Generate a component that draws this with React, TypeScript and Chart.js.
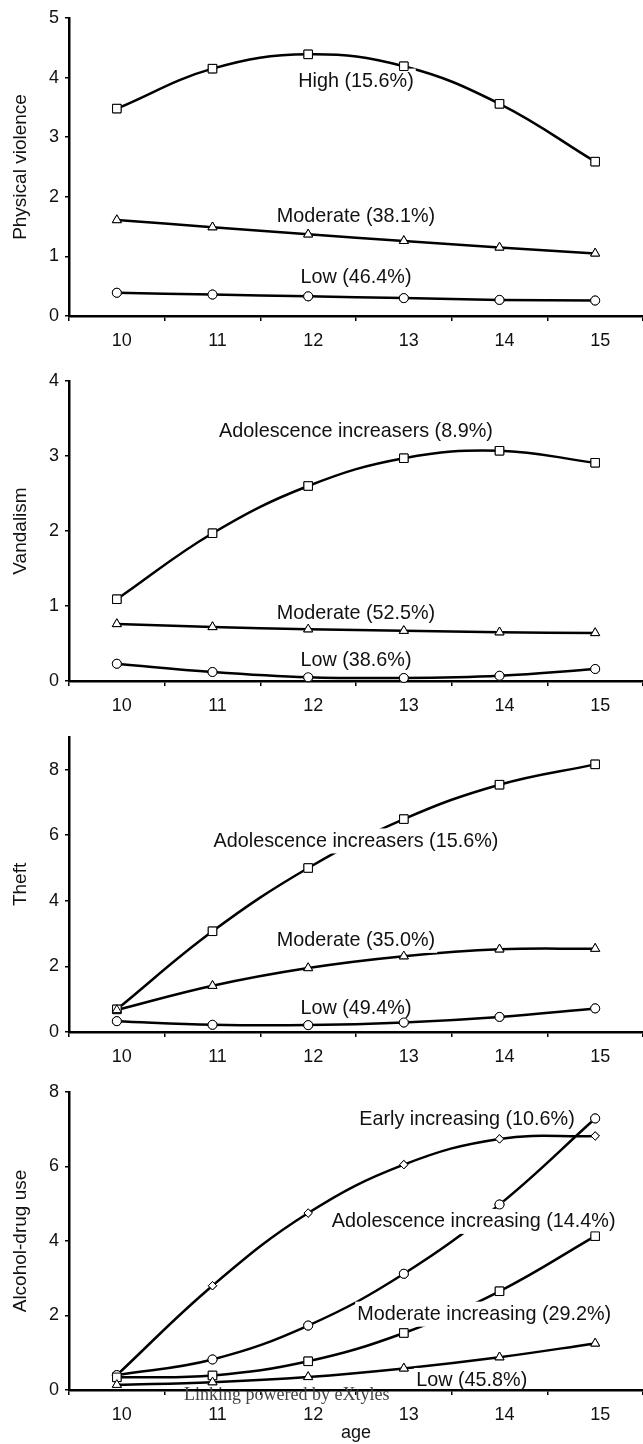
import React, { useEffect, useRef } from "react";
import { Chart, registerables } from "chart.js";

Chart.register(...registerables);
Chart.defaults.font.family = '"Liberation Sans", Arial, Helvetica, sans-serif';

// ---------- data ----------
const ages = ["10", "11", "12", "13", "14", "15"];

// Panel 1: Physical violence
const pvHigh = [3.48, 4.15, 4.39, 4.19, 3.56, 2.59];
const pvModerate = [1.61, 1.49, 1.37, 1.26, 1.15, 1.05];
const pvLow = [0.39, 0.36, 0.33, 0.3, 0.27, 0.26];
const pvLabels = ["High (15.6%)", "Moderate (38.1%)", "Low (46.4%)"];
const pvLabelAnchors = [
  [2.5, 3.95],
  [2.5, 1.68],
  [2.5, 0.66],
];

// Panel 2: Vandalism
const vaHigh = [1.09, 1.97, 2.6, 2.97, 3.07, 2.91];
const vaModerate = [0.76, 0.72, 0.69, 0.67, 0.65, 0.64];
const vaLow = [0.23, 0.12, 0.05, 0.04, 0.07, 0.16];
const vaLabels = ["Adolescence increasers (8.9%)", "Moderate (52.5%)", "Low (38.6%)"];
const vaLabelAnchors = [
  [2.5, 3.34],
  [2.5, 0.91],
  [2.5, 0.28],
];

// Panel 3: Theft
const thHigh = [0.69, 3.07, 5.0, 6.49, 7.54, 8.16];
const thModerate = [0.67, 1.41, 1.95, 2.31, 2.52, 2.54];
const thLow = [0.33, 0.22, 0.21, 0.29, 0.46, 0.72];
const thLabels = ["Adolescence increasers (15.6%)", "Moderate (35.0%)", "Low (49.4%)"];
const thLabelAnchors = [
  [2.5, 5.84],
  [2.5, 2.81],
  [2.5, 0.76],
];

// Panel 4: Alcohol-drug use
const adEarly = [0.4, 2.8, 4.75, 6.05, 6.74, 6.82];
const adAdolescence = [0.4, 0.82, 1.73, 3.12, 4.98, 7.29];
const adModerate = [0.34, 0.39, 0.77, 1.53, 2.65, 4.13];
const adLow = [0.14, 0.21, 0.35, 0.58, 0.88, 1.25];
const adLabels = [
  "Early increasing (10.6%)",
  "Adolescence increasing (14.4%)",
  "Moderate increasing (29.2%)",
  "Low (45.8%)",
];
const adLabelAnchors = [
  [3.66, 7.29],
  [3.73, 4.54],
  [3.84, 2.05],
  [3.71, 0.27],
];

const yTitles = ["Physical violence", "Vandalism", "Theft", "Alcohol-drug use"];
const yMaxes = [5, 4, 9, 8];
const ySteps = [1, 1, 2, 2];

// ---------- styling / layout ----------
const INK = "#111";
const TICK_FONT = 18;
const TITLE_FONT = 19;
const LABEL_FONT = 19.8;
const Y_AXIS_WIDTH = 69;

type Marker = { style: string; radius: number };
const SQUARE: Marker = { style: "rect", radius: 6 };
const TRIANGLE: Marker = { style: "triangle", radius: 5.2 };
const CIRCLE: Marker = { style: "circle", radius: 4.5 };
const DIAMOND: Marker = { style: "rectRot", radius: 4.2 };

type Panel = {
  top: number;
  height: number;
  padTop: number;
  xAxisHeight: number;
  yTitle: string;
  yMax: number;
  yStep: number;
  series: { data: number[]; marker: Marker }[];
  labels: string[];
  anchors: number[][];
  xTitle?: string;
};

const panels: Panel[] = [
  {
    top: 0,
    height: 360,
    padTop: 18,
    xAxisHeight: 44,
    yTitle: yTitles[0],
    yMax: yMaxes[0],
    yStep: ySteps[0],
    series: [
      { data: pvHigh, marker: SQUARE },
      { data: pvModerate, marker: TRIANGLE },
      { data: pvLow, marker: CIRCLE },
    ],
    labels: pvLabels,
    anchors: pvLabelAnchors,
  },
  {
    top: 360,
    height: 360,
    padTop: 21,
    xAxisHeight: 39,
    yTitle: yTitles[1],
    yMax: yMaxes[1],
    yStep: ySteps[1],
    series: [
      { data: vaHigh, marker: SQUARE },
      { data: vaModerate, marker: TRIANGLE },
      { data: vaLow, marker: CIRCLE },
    ],
    labels: vaLabels,
    anchors: vaLabelAnchors,
  },
  {
    top: 720,
    height: 350,
    padTop: 13,
    xAxisHeight: 38,
    yTitle: yTitles[2],
    yMax: yMaxes[2],
    yStep: ySteps[2],
    series: [
      { data: thHigh, marker: SQUARE },
      { data: thModerate, marker: TRIANGLE },
      { data: thLow, marker: CIRCLE },
    ],
    labels: thLabels,
    anchors: thLabelAnchors,
  },
  {
    top: 1070,
    height: 374,
    padTop: 22,
    xAxisHeight: 54,
    yTitle: yTitles[3],
    yMax: yMaxes[3],
    yStep: ySteps[3],
    series: [
      { data: adEarly, marker: DIAMOND },
      { data: adAdolescence, marker: CIRCLE },
      { data: adModerate, marker: SQUARE },
      { data: adLow, marker: TRIANGLE },
    ],
    labels: adLabels,
    anchors: adLabelAnchors,
    xTitle: "age",
  },
];

function makeLabelPlugin(panel: Panel) {
  return {
    id: "seriesLabels",
    afterDatasetsDraw(chart: any) {
      const { ctx, chartArea } = chart;
      const xs = chart.scales.x;
      const ys = chart.scales.y;
      ctx.save();
      ctx.beginPath();
      ctx.rect(chartArea.left + 2, chartArea.top, chartArea.right - chartArea.left, chartArea.bottom - chartArea.top - 1.5);
      ctx.clip();
      ctx.font = `${LABEL_FONT}px "Liberation Sans", Arial, sans-serif`;
      ctx.textAlign = "center";
      ctx.textBaseline = "middle";
      panel.labels.forEach((text, i) => {
        const [ax, ay] = panel.anchors[i];
        const px = xs.getPixelForValue(ax);
        const py = ys.getPixelForValue(ay);
        const w = ctx.measureText(text).width;
        ctx.fillStyle = "#fff";
        ctx.fillRect(px - w / 2 - 2, py - 12, w + 4, 25);
      });
      ctx.restore();
      // redraw markers on top of label boxes
      chart.data.datasets.forEach((_: any, di: number) => {
        const meta = chart.getDatasetMeta(di);
        meta.data.forEach((pt: any) => pt.draw(ctx, chartArea));
      });
      ctx.save();
      ctx.font = `${LABEL_FONT}px "Liberation Sans", Arial, sans-serif`;
      ctx.textAlign = "center";
      ctx.textBaseline = "middle";
      ctx.fillStyle = INK;
      panel.labels.forEach((text, i) => {
        const [ax, ay] = panel.anchors[i];
        ctx.fillText(text, xs.getPixelForValue(ax), ys.getPixelForValue(ay) + 1);
      });
      ctx.restore();
    },
  };
}

function buildConfig(panel: Panel): any {
  return {
    type: "line",
    data: {
      labels: ages,
      datasets: panel.series.map((s) => ({
        data: s.data,
        borderColor: "#000",
        borderWidth: 2.5,
        tension: 0.4,
        fill: false,
        pointStyle: s.marker.style,
        pointRadius: s.marker.radius,
        pointBackgroundColor: "#fff",
        pointBorderColor: "#000",
        pointBorderWidth: 1,
        clip: false,
      })),
    },
    options: {
      responsive: false,
      maintainAspectRatio: false,
      animation: false,
      events: [],
      layout: { autoPadding: false, padding: { top: panel.padTop, left: 0, right: 0, bottom: 0 } },
      plugins: { legend: { display: false }, tooltip: { enabled: false } },
      scales: {
        x: {
          type: "category",
          offset: true,
          grid: {
            display: true,
            offset: true,
            drawOnChartArea: false,
            drawTicks: true,
            tickLength: 5,
            color: "#000",
            lineWidth: 1.5,
          },
          border: { display: true, color: "#000", width: 2.5 },
          ticks: {
            color: INK,
            font: { size: TICK_FONT },
            padding: 9,
            labelOffset: 5,
            maxRotation: 0,
            autoSkip: false,
          },
          title: panel.xTitle
            ? {
                display: true,
                text: panel.xTitle,
                color: INK,
                font: { size: TICK_FONT },
                padding: { top: 0, bottom: 0 },
              }
            : { display: false },
          afterFit: (s: any) => {
            s.height = panel.xAxisHeight;
            s.paddingLeft = 0;
            s.paddingRight = 0;
          },
        },
        y: {
          type: "linear",
          min: 0,
          max: panel.yMax,
          ticks: { stepSize: panel.yStep, color: INK, font: { size: TICK_FONT }, padding: 6 },
          grid: {
            display: true,
            drawOnChartArea: false,
            drawTicks: true,
            tickLength: 4,
            color: "#000",
            lineWidth: 1.5,
          },
          border: { display: true, color: "#000", width: 2.5 },
          title: {
            display: true,
            text: panel.yTitle,
            color: INK,
            font: { size: TITLE_FONT },
            padding: { top: 9, bottom: 0 },
          },
          afterBuildTicks: (axis: any) => {
            axis.ticks = axis.ticks.filter(
              (t: any) => Math.abs(t.value / panel.yStep - Math.round(t.value / panel.yStep)) < 1e-9
            );
          },
          afterFit: (s: any) => {
            s.width = Y_AXIS_WIDTH;
          },
        },
      },
    },
    plugins: [makeLabelPlugin(panel)],
  };
}

function PanelChart({ panel }: { panel: Panel }) {
  const ref = useRef<HTMLCanvasElement | null>(null);
  useEffect(() => {
    if (!ref.current) return;
    const chart = new Chart(ref.current, buildConfig(panel));
    return () => chart.destroy();
  }, [panel]);
  return (
    <canvas
      ref={ref}
      width={643}
      height={panel.height}
      style={{ position: "absolute", left: 0, top: panel.top, width: 643, height: panel.height }}
    />
  );
}

export default function App() {
  return (
    <div
      style={{
        position: "absolute",
        left: 0,
        top: 0,
        width: 643,
        height: 1444,
        background: "#fff",
        overflow: "hidden",
      }}
    >
      {panels.map((p, i) => (
        <PanelChart key={i} panel={p} />
      ))}
      <div
        style={{
          position: "absolute",
          left: 184,
          top: 1384,
          font: '18px/20px "Liberation Serif", "Times New Roman", serif',
          color: "#444",
          whiteSpace: "nowrap",
        }}
      >
        Linking powered by eXtyles
      </div>
    </div>
  );
}
